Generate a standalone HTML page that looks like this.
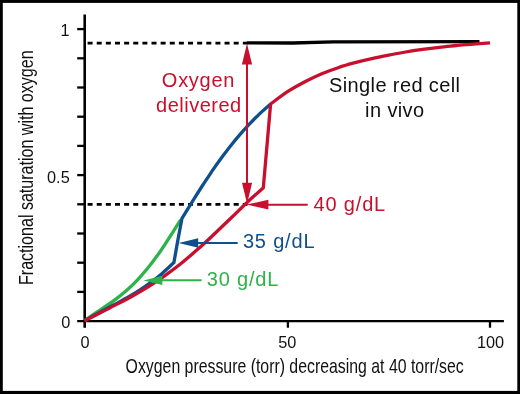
<!DOCTYPE html>
<html><head><meta charset="utf-8">
<style>
html,body{margin:0;padding:0;background:#fff;}
body{width:520px;height:394px;overflow:hidden;}
svg{display:block;}
text{font-family:"Liberation Sans",sans-serif;}
</style></head>
<body>
<svg width="520" height="394" viewBox="0 0 520 394">
<rect x="0" y="0" width="520" height="394" fill="#000"/>
<rect x="2.8" y="2.9" width="514.5" height="388" fill="#fff"/>

<!-- dashed reference lines -->
<g stroke="#000" stroke-width="2.9" stroke-dasharray="5 4.13" fill="none">
<line x1="87.6" y1="43.1" x2="247.6" y2="43.1"/>
<line x1="87.6" y1="204.4" x2="247.6" y2="204.4"/>
</g>
<!-- top solid black -->
<path d="M246.9,42.8 L293,43 L333,41.9 L479.5,41.6" fill="none" stroke="#000" stroke-width="3.3"/>

<!-- axes -->
<g stroke="#000" fill="none">
<line x1="84.7" y1="14.6" x2="84.7" y2="327.7" stroke-width="2.6"/>
<line x1="77.2" y1="321.1" x2="503.9" y2="321.1" stroke-width="2.4"/>
<g stroke-width="2.3">
<line x1="77.2" y1="29.1" x2="84" y2="29.1"/>
<line x1="77.2" y1="58.3" x2="84" y2="58.3"/>
<line x1="77.2" y1="87.5" x2="84" y2="87.5"/>
<line x1="77.2" y1="116.7" x2="84" y2="116.7"/>
<line x1="77.2" y1="145.9" x2="84" y2="145.9"/>
<line x1="77.2" y1="175.1" x2="84" y2="175.1"/>
<line x1="77.2" y1="204.3" x2="84" y2="204.3"/>
<line x1="77.2" y1="233.5" x2="84" y2="233.5"/>
<line x1="77.2" y1="262.7" x2="84" y2="262.7"/>
<line x1="77.2" y1="291.9" x2="84" y2="291.9"/>
<line x1="287.9" y1="321" x2="287.9" y2="327.7"/>
<line x1="490" y1="321" x2="490" y2="327.7"/>
</g>
</g>

<!-- curves -->
<g fill="none" stroke-width="3.3" stroke-linejoin="miter" stroke-linecap="butt">
<path id="green" stroke="#2db34a" d="M84.6,320.7 C86.4,319.4 92.0,315.4 95.7,312.9 C99.3,310.4 102.9,308.2 106.5,305.7 C110.1,303.3 113.6,300.9 117.2,298.1 C120.8,295.4 124.3,292.5 127.9,289.3 C131.4,286.1 135.0,282.6 138.5,278.8 C142.1,274.9 145.6,270.8 149.2,266.3 C152.8,261.8 156.3,257.0 159.9,252.0 C163.4,247.0 166.9,241.6 170.3,236.2 C173.8,230.9 178.9,222.5 180.6,219.8"/>
<path id="blue" stroke="#0f508c" d="M84.6,320.7 C86.5,319.6 92.0,316.4 95.8,314.4 C99.5,312.4 103.2,310.5 106.9,308.5 C110.6,306.5 114.4,304.6 118.1,302.6 C121.8,300.6 125.5,298.6 129.2,296.5 C133.0,294.3 136.7,292.1 140.4,289.6 C144.1,287.2 147.9,284.6 151.6,281.9 C155.3,279.1 159.0,276.1 162.7,272.9 C166.5,269.7 172.0,264.3 173.9,262.6 L177.4,242.6 L182.0,218.3 C183.7,215.5 188.9,207.2 192.2,201.8 C195.6,196.4 198.9,191.1 202.2,186.0 C205.5,180.9 208.8,176.0 212.0,171.2 C215.3,166.4 218.6,161.8 221.9,157.3 C225.2,152.9 228.4,148.6 231.7,144.5 C235.0,140.4 238.3,136.5 241.6,132.7 C244.8,129.0 248.2,125.4 251.4,122.0 C254.7,118.7 257.9,115.5 261.1,112.4 C264.3,109.4 269.0,105.4 270.6,104.0"/>
<path id="red" stroke="#c8102e" d="M84.6,320.7 C87.4,319.3 95.8,315.1 101.3,312.3 C106.8,309.5 112.2,306.8 117.6,303.9 C123.0,301.1 128.4,298.3 133.8,295.2 C139.3,292.2 144.7,289.0 150.1,285.6 C155.5,282.2 160.9,278.6 166.3,274.6 C171.7,270.7 177.2,266.6 182.6,262.2 C188.0,257.8 193.4,253.1 198.8,248.3 C204.2,243.5 209.6,238.4 215.1,233.3 C220.5,228.2 225.9,222.9 231.3,217.8 C236.7,212.6 242.0,207.2 247.3,202.2 C252.7,197.2 260.6,190.2 263.3,187.8 L270.6,104.0 C273.4,102.0 281.9,95.4 287.5,91.7 C293.1,88.1 298.7,85.0 304.4,82.0 C310.0,79.1 315.6,76.4 321.2,74.0 C326.9,71.6 332.5,69.6 338.1,67.7 C343.7,65.8 349.4,64.2 355.0,62.7 C360.6,61.1 366.2,59.8 371.9,58.6 C377.5,57.3 383.1,56.2 388.7,55.1 C394.4,54.0 400.0,53.0 405.6,52.0 C411.2,51.1 416.9,50.2 422.5,49.4 C428.1,48.6 433.7,47.9 439.4,47.3 C445.0,46.6 450.6,46.1 456.2,45.5 C461.9,45.0 467.5,44.5 473.1,44.1 C478.7,43.7 487.2,43.1 490.0,42.9"/>
</g>

<!-- arrows -->
<g stroke="#c8102e" stroke-width="2" fill="#c8102e">
<line x1="247" y1="60" x2="247" y2="186" />
<path stroke="none" d="M247,43.6 L252.1,64.5 L241.9,64.5 Z"/>
<path stroke="none" d="M247.1,203.8 L252.1,182.8 L242,182.8 Z"/>
<line x1="266" y1="204.7" x2="307.7" y2="204.7"/>
<path stroke="none" d="M246.5,204.6 L268.4,199.8 L268.4,209.5 Z"/>
</g>
<g stroke="#0f508c" stroke-width="2" fill="#0f508c">
<line x1="196" y1="243" x2="237.7" y2="243"/>
<path stroke="none" d="M178.6,243 L198.2,238.2 L198.2,247.8 Z"/>
</g>
<g stroke="#2db34a" stroke-width="2" fill="#2db34a">
<line x1="160" y1="280.3" x2="201.5" y2="280.3"/>
<path stroke="none" d="M143.5,280.4 L162.3,275.7 L162.3,285.1 Z"/>
</g>

<!-- tick labels -->
<g font-size="16.3" fill="#111">
<text x="65.1" y="35.7" text-anchor="middle">1</text>
<text x="69.7" y="182.6" text-anchor="end">0.5</text>
<text x="65.7" y="327.6" text-anchor="middle">0</text>
<text x="85" y="348" text-anchor="middle">0</text>
<text x="287.2" y="348" text-anchor="middle">50</text>
<text x="490.6" y="348" text-anchor="middle">100</text>
</g>

<!-- axis titles -->
<text font-size="20" fill="#111" transform="translate(125.6,373.2) scale(0.793,1)">Oxygen pressure (torr) decreasing at 40 torr/sec</text>
<text font-size="20" fill="#111" transform="translate(32.8,285) rotate(-90) scale(0.803,1)">Fractional saturation with oxygen</text>

<!-- annotations -->
<g font-size="20">
<text x="198.1" y="87.1" text-anchor="middle" fill="#c8102e" textLength="72.5" lengthAdjust="spacing">Oxygen</text>
<text x="198.6" y="111.5" text-anchor="middle" fill="#c8102e" textLength="85" lengthAdjust="spacing">delivered</text>
<text x="394.5" y="92.2" text-anchor="middle" fill="#111" textLength="131" lengthAdjust="spacing">Single red cell</text>
<text x="394.6" y="116.7" text-anchor="middle" fill="#111" textLength="59" lengthAdjust="spacing">in vivo</text>
<text x="313.6" y="211" fill="#c8102e" textLength="71.6" lengthAdjust="spacing">40 g/dL</text>
<text x="242.9" y="248" fill="#0f508c" textLength="71.6" lengthAdjust="spacing">35 g/dL</text>
<text x="206.8" y="286" fill="#2db34a" textLength="71.6" lengthAdjust="spacing">30 g/dL</text>
</g>
</svg>
</body></html>
